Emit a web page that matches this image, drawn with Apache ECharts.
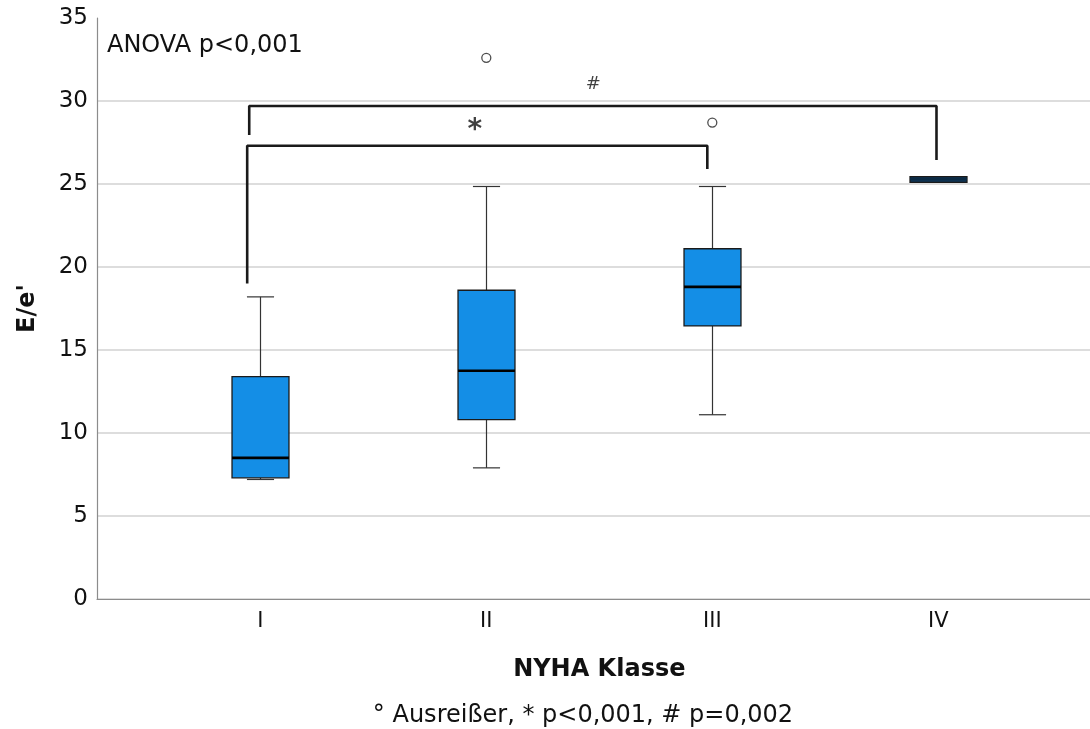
<!DOCTYPE html>
<html><head><meta charset="utf-8">
<script src="https://cdn.jsdelivr.net/npm/echarts@6/dist/echarts.min.js"></script>
<style>html,body{margin:0;padding:0;background:#fff}#c{width:1090px;height:729px}</style>
</head><body><div id="c"></div>
<script>
const categories = ['I', 'II', 'III', 'IV'];
const whiskerLow  = [7.2, 7.9, 11.1, 25.1];
const q1Values    = [7.3, 10.8, 16.45, 25.1];
const medians     = [8.5, 13.75, 18.8, 25.3];
const q3Values    = [13.4, 18.6, 21.1, 25.45];
const whiskerHigh = [18.2, 24.85, 24.85, 25.45];
const outliers    = [[1, 32.6], [2, 28.7]];
const yTicks = [0, 5, 10, 15, 20, 25, 30, 35];
// significance brackets (category index, value)
const bracketStar = [[-0.058, 19.0], [-0.058, 27.3], [1.978, 27.3], [1.978, 25.9]];
const bracketHash = [[-0.049, 27.95], [-0.049, 29.7], [2.992, 29.7], [2.992, 26.45]];
const sigLabels = [[0.949, 28.2, '*'], [1.473, 31.0, '#']];

const boxData = categories.map((c, i) => [i, whiskerLow[i], q1Values[i], medians[i], q3Values[i], whiskerHigh[i]]);

function renderBox(params, api) {
  const idx = api.value(0);
  const lo = api.coord([idx, api.value(1)]);
  const q1 = api.coord([idx, api.value(2)]);
  const md = api.coord([idx, api.value(3)]);
  const q3 = api.coord([idx, api.value(4)]);
  const hi = api.coord([idx, api.value(5)]);
  const band = api.size([1, 0])[0];
  const bw = band * 0.252, cw = band * 0.12;
  const x = Math.round(lo[0]) + 0.5;
  const wl = {stroke: '#333', lineWidth: 1.2};
  const children = [];
  if (hi[1] < q3[1] - 0.5) {
    children.push({type: 'line', shape: {x1: x, y1: hi[1], x2: x, y2: q3[1]}, style: wl});
    children.push({type: 'line', shape: {x1: x - cw / 2, y1: hi[1], x2: x + cw / 2, y2: hi[1]}, style: wl});
  }
  if (lo[1] > q1[1] + 0.5) {
    children.push({type: 'line', shape: {x1: x, y1: lo[1], x2: x, y2: q1[1]}, style: wl});
    children.push({type: 'line', shape: {x1: x - cw / 2, y1: lo[1], x2: x + cw / 2, y2: lo[1]}, style: wl});
  }
  const dark = (q1[1] - q3[1]) < 8;
  children.push({type: 'rect', shape: {x: x - bw / 2, y: q3[1], width: bw, height: q1[1] - q3[1]},
    style: {fill: dark ? '#0f3555' : '#148ee6', stroke: '#1a1a1a', lineWidth: 1.3}});
  children.push({type: 'line', shape: {x1: x - bw / 2, y1: md[1], x2: x + bw / 2, y2: md[1]},
    style: {stroke: dark ? '#0b2a44' : '#000', lineWidth: 2.6}});
  return {type: 'group', children};
}

const chart = echarts.init(document.getElementById('c'), null, {renderer: 'canvas'});
const FF = 'DejaVu Sans';
chart.setOption({
  backgroundColor: '#fff',
  animation: false,
  textStyle: {fontFamily: FF},
  grid: [
    {left: 97, right: 0, top: 18, bottom: 130},
    {left: 147.3, right: 38.7, top: 18, bottom: 130}
  ],
  xAxis: [
    {gridIndex: 0, type: 'value', min: 0, max: 1, axisLine: {show: true, onZero: false, lineStyle: {color: '#8c8c8c', width: 1.2}},
     axisTick: {show: false}, axisLabel: {show: false}, splitLine: {show: false}},
    {gridIndex: 1, type: 'category', data: categories, boundaryGap: true,
     axisLine: {show: false}, axisTick: {show: false},
     axisLabel: {fontSize: 21, color: '#111', margin: 12, fontFamily: FF},
     name: 'NYHA Klasse', nameLocation: 'middle', nameGap: 59,
     nameTextStyle: {fontSize: 24, fontWeight: 'bold', color: '#111', fontFamily: FF}},
    {gridIndex: 1, type: 'value', min: -0.5, max: 3.5, show: false}
  ],
  yAxis: [
    {gridIndex: 0, type: 'value', min: yTicks[0], max: yTicks[yTicks.length - 1], interval: 5,
     axisLine: {show: true, lineStyle: {color: '#8c8c8c', width: 1.2}}, axisTick: {show: false},
     axisLabel: {fontSize: 23, color: '#111', margin: 9, fontFamily: FF},
     splitLine: {show: true, lineStyle: {color: ['#d2d2d2', '#d2d2d2', '#d2d2d2', '#d2d2d2', '#d2d2d2', '#d2d2d2', '#d2d2d2', 'rgba(0,0,0,0)'], width: 1.5}},
     name: "E/e'", nameLocation: 'middle', nameGap: 57, nameRotate: 90,
     nameTextStyle: {fontSize: 24, fontWeight: 'bold', color: '#111', fontFamily: FF}},
    {gridIndex: 1, type: 'value', min: 0, max: 35, show: false}
  ],
  graphic: [
    {type: 'text', x: 107, y: 46, style: {text: 'ANOVA p<0,001', font: '24px "DejaVu Sans"', fill: '#111', textAlign: 'left', textVerticalAlign: 'middle'}},
    {type: 'text', x: 583, y: 716, style: {text: '° Ausreißer, * p<0,001, # p=0,002', font: '24px "DejaVu Sans"', fill: '#111', textAlign: 'center', textVerticalAlign: 'middle'}}
  ],
  series: [
    {type: 'custom', xAxisIndex: 1, yAxisIndex: 1, renderItem: renderBox, data: boxData, z: 3},
    {type: 'scatter', xAxisIndex: 1, yAxisIndex: 1, data: outliers, symbol: 'circle', symbolSize: 9,
     itemStyle: {color: '#fff', borderColor: '#222', borderWidth: 1.3}, z: 4},
    {type: 'line', xAxisIndex: 2, yAxisIndex: 1, data: bracketStar, symbol: 'none',
     lineStyle: {color: '#1a1a1a', width: 2.6}, z: 5},
    {type: 'line', xAxisIndex: 2, yAxisIndex: 1, data: bracketHash, symbol: 'none',
     lineStyle: {color: '#1a1a1a', width: 2.6}, z: 5},
    {type: 'scatter', xAxisIndex: 2, yAxisIndex: 1, symbolSize: 0,
     data: sigLabels.map(d => ({value: [d[0], d[1]], label: {formatter: d[2], fontSize: d[2] === '*' ? 28 : 18, fontWeight: d[2] === '*' ? 'bold' : 'normal'}})),
     label: {show: true, position: 'inside', color: '#111', fontFamily: FF}, z: 6}
  ]
});
</script></body></html>
